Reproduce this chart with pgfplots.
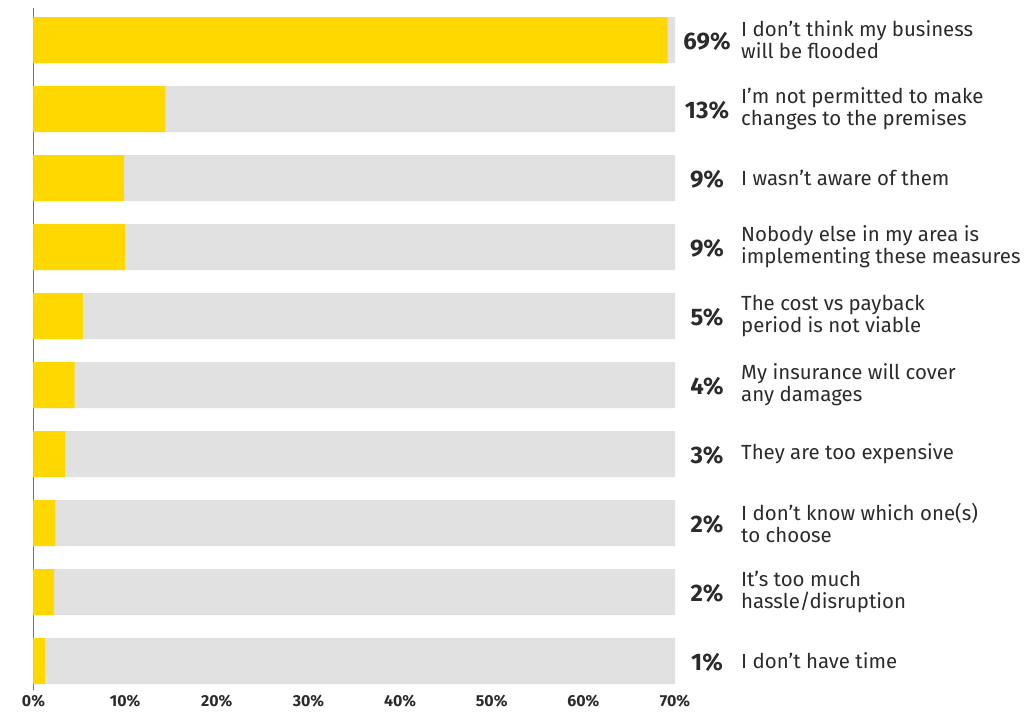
\documentclass[border=0pt]{standalone}
\usepackage{pgfplots}
\pgfplotsset{compat=1.18}
\usepackage{fontspec}
\setmainfont{Fira Sans}
\definecolor{barY}{HTML}{FFD800}
\definecolor{barG}{HTML}{E1E1E1}
\definecolor{txt}{HTML}{2B2B2B}
\newcommand{\pl}[3]{%
  \node[font=\bfseries\fontsize{24}{26}\selectfont, text=txt, anchor=center] at (axis cs:70,#1) [xshift=32bp,yshift=-1bp] {#2};
  \node[font=\fontsize{20.5}{22}\selectfont, text=txt, anchor=west, align=left, inner sep=0pt] at (axis cs:70,#1) [xshift=66bp] {#3};}
\begin{document}
\begin{tikzpicture}[x=1bp,y=1bp]
\useasboundingbox (-33.5,-25) rectangle (992.5,690);
\begin{axis}[
  at={(0,0)}, anchor=south west,
  scale only axis, width=641.5bp, height=682bp,
  xmin=0, xmax=70, ymin=-0.464, ymax=9.42, y dir=reverse,
  xbar, bar width=46bp, bar shift=0pt,
  axis x line*=bottom, axis y line*=left,
  x axis line style={draw=none},
  y axis line style={draw=black!55, line width=1.3bp},
  ytick=\empty,
  xtick={0,10,...,70},
  major tick length=0pt,
  xticklabel={\pgfmathprintnumber{\tick}\%},
  xticklabel style={font=\bfseries\fontsize{16}{18}\selectfont, text=txt, yshift=-1bp},
  /pgf/number format/assume math mode=true,
  clip=false,
]
\addplot[fill=barG, draw=none] coordinates {(70,0) (70,1) (70,2) (70,3) (70,4) (70,5) (70,6) (70,7) (70,8) (70,9)};
\addplot[fill=barY, draw=none] coordinates {(69.2,0) (14.4,1) (9.9,2) (10.0,3) (5.4,4) (4.5,5) (3.45,6) (2.35,7) (2.25,8) (1.25,9)};
\pl{0}{69\%}{I don’t think my business\\will be flooded}
\pl{1}{13\%}{I’m not permitted to make\\changes to the premises}
\pl{2}{9\%}{I wasn’t aware of them}
\pl{3}{9\%}{Nobody else in my area is\\implementing these measures}
\pl{4}{5\%}{The cost vs payback\\period is not viable}
\pl{5}{4\%}{My insurance will cover\\any damages}
\pl{6}{3\%}{They are too expensive}
\pl{7}{2\%}{I don’t know which one(s)\\to choose}
\pl{8}{2\%}{It’s too much\\hassle/disruption}
\pl{9}{1\%}{I don’t have time}
\end{axis}
\end{tikzpicture}
\end{document}
